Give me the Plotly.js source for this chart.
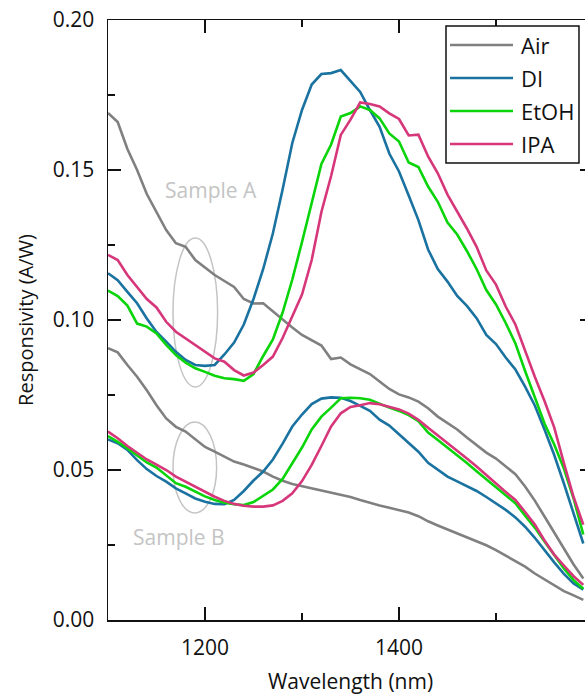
<!DOCTYPE html>
<html>
<head>
<meta charset="utf-8">
<script src="https://cdn.plot.ly/plotly-3.0.1.min.js"></script>
<style>
html,body{margin:0;padding:0;background:#fff;overflow:hidden;}
#chart{width:600px;height:700px;}
</style>
</head>
<body>
<div id="chart"></div>
<script>
// Wavelength grid (nm)
const wavelength = [1100,1110,1120,1130,1140,1150,1160,1170,1180,1190,
  1200,1210,1220,1230,1240,1250,1260,1270,1280,1290,
  1300,1310,1320,1330,1340,1350,1360,1370,1380,1390,
  1400,1410,1420,1430,1440,1450,1460,1470,1480,1490,
  1500,1510,1520,1530,1540,1550,1560,1570,1580,1590];

// Sample A (upper group)
const airA = [0.169,0.166,0.157,0.150,0.142,0.136,0.130,0.1256,0.1244,0.120,
  0.1175,0.115,0.113,0.111,0.107,0.1055,0.1056,0.1028,0.100,0.0975,
  0.095,0.0933,0.0915,0.087,0.0875,0.0852,0.0835,0.082,0.0795,0.077,
  0.0752,0.0742,0.0728,0.0706,0.0678,0.0657,0.0635,0.0608,0.0583,0.0558,
  0.0538,0.0512,0.0486,0.0445,0.0398,0.0345,0.0293,0.024,0.0185,0.0138];
const diA = [0.1156,0.1133,0.1094,0.1056,0.1005,0.096,0.0928,0.0894,0.0867,0.085,
  0.0847,0.085,0.0885,0.0925,0.0985,0.107,0.117,0.1289,0.1435,0.159,
  0.170,0.1785,0.182,0.1823,0.1833,0.1795,0.176,0.170,0.1644,0.1555,
  0.1495,0.1415,0.1333,0.1235,0.117,0.1128,0.108,0.1047,0.1006,0.095,
  0.092,0.0875,0.0835,0.0778,0.0715,0.0635,0.055,0.0455,0.0354,0.0255];
const etohA = [0.1098,0.108,0.1048,0.0988,0.0978,0.0955,0.0917,0.0883,0.0858,0.0839,
  0.0827,0.0814,0.0806,0.0803,0.0797,0.082,0.088,0.0935,0.1025,0.1135,
  0.126,0.1395,0.152,0.1585,0.1678,0.169,0.1712,0.170,0.1672,0.1622,
  0.1595,0.1525,0.151,0.1445,0.1394,0.1325,0.1285,0.123,0.117,0.110,
  0.1052,0.099,0.0922,0.083,0.0745,0.0655,0.0585,0.0505,0.0405,0.0285];
const ipaA = [0.1217,0.120,0.115,0.1111,0.107,0.1042,0.0994,0.0961,0.0939,0.0915,
  0.0892,0.0872,0.0861,0.0833,0.0815,0.0825,0.085,0.0878,0.094,0.1012,
  0.1085,0.120,0.136,0.148,0.1617,0.1668,0.1725,0.172,0.1712,0.1689,
  0.167,0.1615,0.1618,0.1545,0.1489,0.1418,0.1362,0.1305,0.1244,0.1165,
  0.1118,0.1045,0.0985,0.0895,0.0811,0.073,0.0642,0.0523,0.041,0.0318];

// Sample B (lower group)
const airB = [0.0906,0.0892,0.085,0.0811,0.0766,0.0716,0.0672,0.0644,0.0628,0.0604,
  0.0577,0.0561,0.0544,0.0528,0.0518,0.0507,0.0495,0.0478,0.0464,0.0453,
  0.0446,0.0438,0.0431,0.0425,0.0419,0.041,0.040,0.039,0.0382,0.0374,
  0.0366,0.0358,0.0346,0.0329,0.0315,0.0302,0.0289,0.0275,0.0262,0.0249,
  0.0233,0.0215,0.0196,0.0178,0.0155,0.0135,0.0115,0.0096,0.0082,0.0067];
const diB = [0.0602,0.0589,0.0567,0.0533,0.0503,0.048,0.0461,0.0439,0.0422,0.0405,
  0.0394,0.0387,0.0386,0.040,0.043,0.0465,0.0495,0.0535,0.0588,0.0645,
  0.0685,0.072,0.0738,0.0742,0.0741,0.073,0.0714,0.0697,0.0668,0.0648,
  0.0619,0.0591,0.0561,0.0524,0.0501,0.0478,0.0462,0.0447,0.043,0.041,
  0.0389,0.0367,0.0342,0.0311,0.0274,0.0232,0.0192,0.0154,0.0122,0.0101];
const etohB = [0.0613,0.0594,0.0572,0.055,0.0525,0.0508,0.0483,0.0456,0.0444,0.0427,
  0.0412,0.040,0.0391,0.0386,0.0383,0.0393,0.0414,0.0435,0.047,0.0522,
  0.0575,0.0635,0.0678,0.0708,0.0739,0.0741,0.0739,0.0734,0.072,0.0708,
  0.0697,0.0683,0.0663,0.0625,0.060,0.0575,0.0548,0.0523,0.0496,0.047,
  0.0444,0.0415,0.0389,0.0348,0.0308,0.0262,0.0215,0.0172,0.0133,0.0104];
const ipaB = [0.0628,0.0606,0.058,0.0556,0.0535,0.0518,0.050,0.0478,0.0461,0.0443,
  0.0427,0.0411,0.0397,0.0387,0.0381,0.0378,0.0378,0.0382,0.0397,0.0422,
  0.0463,0.0517,0.058,0.0645,0.0689,0.071,0.0716,0.0723,0.0719,0.0711,
  0.0702,0.0688,0.0667,0.0641,0.0616,0.059,0.0563,0.0538,0.0512,0.0482,
  0.0455,0.0427,0.040,0.036,0.0318,0.0265,0.0218,0.0181,0.0146,0.0117];

const seriesNames = ["Air","DI","EtOH","IPA"];
const seriesColors = ["#808080","#1a72a0","#0ad40a","#d6377a"];
const sampleA = [airA, diA, etohA, ipaA];
const sampleB = [airB, diB, etohB, ipaB];
const sampleLabels = ["Sample A","Sample B"];

const FONT = "'Open Sans', 'Noto Sans', sans-serif";
const traces = [];
[sampleA, sampleB].forEach((grp, gi) => {
  grp.forEach((ys, si) => {
    traces.push({
      x: wavelength, y: ys, type: 'scatter', mode: 'lines',
      name: seriesNames[si] + (gi ? ' B' : ' A'),
      line: {color: seriesColors[si], width: 2.6},
      showlegend: false, hoverinfo: 'skip'
    });
  });
});

// manual legend (line length matches reference)
const legRows = [0.9583, 0.9033, 0.8483, 0.7933];
const shapes = [
  {type:'rect', xref:'paper', yref:'paper', x0:0.6969, x1:0.9711, y0:0.7617, y1:0.99,
   line:{color:'#111', width:1.5}, fillcolor:'#fff', layer:'above'}
];
const annotations = [];
seriesNames.forEach((n, i) => {
  shapes.push({type:'line', xref:'paper', yref:'paper', x0:0.7052, x1:0.8351,
    y0:legRows[i], y1:legRows[i], line:{color:seriesColors[i], width:2.6}, layer:'above'});
  annotations.push({xref:'paper', yref:'paper', x:0.8475, y:legRows[i], text:n,
    showarrow:false, xanchor:'left', yanchor:'middle',
    font:{family:FONT, size:22, color:'#111'}});
});
// ellipses marking the samples
shapes.push({type:'circle', xref:'x', yref:'y', x0:1167, x1:1213, y0:0.0777, y1:0.1273,
  line:{color:'#c4c4c4', width:1.5}, layer:'below'});
shapes.push({type:'circle', xref:'x', yref:'y', x0:1167, x1:1212, y0:0.0357, y1:0.066,
  line:{color:'#c4c4c4', width:1.5}, layer:'below'});
annotations.push({x:1206.5, y:0.1433, text:sampleLabels[0], showarrow:false,
  font:{family:FONT, size:21, color:'#c4c4c4'}});
annotations.push({x:1173.5, y:0.0277, text:sampleLabels[1], showarrow:false,
  font:{family:FONT, size:21, color:'#c4c4c4'}});

const layout = {
  width: 600, height: 700,
  margin: {l:108, r:7, t:20, b:80},
  paper_bgcolor:'#fff', plot_bgcolor:'#fff',
  font: {family: FONT, size: 21, color:'#111'},
  showlegend: false,
  xaxis: {
    range:[1100,1600], showgrid:false, zeroline:false,
    showline:true, linecolor:'#111', linewidth:1.5, mirror:'ticks',
    ticks:'inside', ticklen:13, tickwidth:1.5, tickcolor:'#111',
    tickvals:[1200,1400], ticktext:['1200','1400'],
    minor:{ticks:'inside', ticklen:7, tickwidth:1.5, tickcolor:'#111', tickvals:[1100,1300,1500]},
    tickfont:{family:FONT, size:21, color:'#111'},
    ticklabelstandoff: 8,
    title:{text:'Wavelength (nm)', font:{family:FONT, size:21, color:'#111'}, standoff:14}
  },
  yaxis: {
    range:[0,0.2], showgrid:false, zeroline:false,
    showline:true, linecolor:'#111', linewidth:1.5, mirror:'ticks',
    ticks:'inside', ticklen:13, tickwidth:1.5, tickcolor:'#111',
    dtick:0.05, tickformat:'.2f',
    minor:{ticks:'inside', ticklen:7, tickwidth:1.5, tickcolor:'#111', dtick:0.025},
    tickfont:{family:FONT, size:21, color:'#111'},
    ticklabelstandoff: 8,
    title:{text:'Responsivity (A/W)', font:{family:FONT, size:20, color:'#111'}, standoff:14}
  },
  shapes: shapes,
  annotations: annotations
};

Plotly.newPlot('chart', traces, layout, {displayModeBar:false, staticPlot:true});
</script>
</body>
</html>
